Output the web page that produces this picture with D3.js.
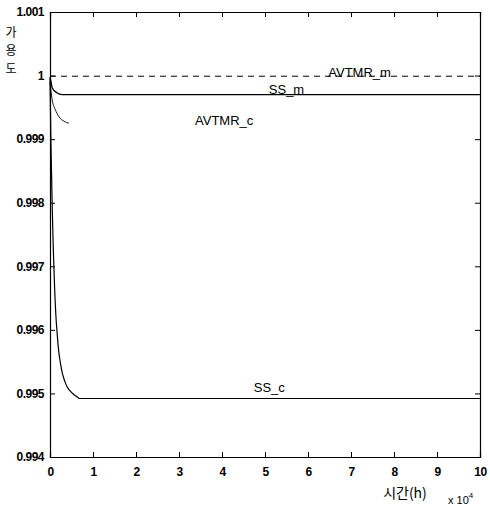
<!DOCTYPE html>
<html>
<head>
<meta charset="utf-8">
<script src="https://cdn.jsdelivr.net/npm/d3@7/dist/d3.min.js"></script>
<style>
  body { margin: 0; background: #fff; }
  svg text { font-family: "Liberation Sans", Arial, sans-serif; fill: #000; }
  svg .kr { font-family: "Noto Sans CJK KR", sans-serif; }
</style>
</head>
<body>
<div id="chart"></div>
<script>
// time in units of 10^4 h
const ssC_t = [0, 0.02, 0.05, 0.09, 0.16, 0.23, 0.33, 0.44, 0.56, 0.68, 10]
const ssC_v = [0.99995, 0.999, 0.998, 0.997, 0.996, 0.99553, 0.99522, 0.99506, 0.99498, 0.99492, 0.99492]

const ssM_t = [0, 0.03, 0.05, 0.16, 0.28, 10]
const ssM_v = [0.99998, 0.99988, 0.99981, 0.99973, 0.9997, 0.9997]

const avC_t = [0, 0.05, 0.12, 0.21, 0.33, 0.44]
const avC_v = [0.9999, 0.99962, 0.99947, 0.99935, 0.99928, 0.99925]

const avM_t = [0, 10]
const avM_v = [0.99999, 0.99999]

const xTicks = [0, 1, 2, 3, 4, 5, 6, 7, 8, 9, 10]
const yTicks = [0.994, 0.995, 0.996, 0.997, 0.998, 0.999, 1, 1.001]
const yLabel = ['가', '용', '도']

const W = 490, H = 506
const m = { left: 50, right: 10, top: 12, bottom: 49 }

const svg = d3.select('#chart').append('svg')
  .attr('width', W).attr('height', H)

const x = d3.scaleLinear().domain([0, 10]).range([m.left, W - m.right])
const y = d3.scaleLinear().domain([0.994, 1.001]).range([H - m.bottom, m.top])

const tk = 5
// box + inward ticks on all four sides
svg.append('g').attr('transform', `translate(0,${y(0.994)})`)
  .call(d3.axisBottom(x).tickValues(xTicks).tickSize(-tk).tickPadding(10).tickFormat(d3.format('d')))
svg.append('g').attr('transform', `translate(0,${y(1.001)})`)
  .call(d3.axisTop(x).tickValues(xTicks).tickSize(-tk).tickFormat(''))
svg.append('g').attr('transform', `translate(${x(0)},0)`)
  .call(d3.axisLeft(y).tickValues(yTicks).tickSize(-tk).tickPadding(6).tickFormat(d => d === 1 ? '1' : d3.format('.3f')(d)))
svg.append('g').attr('transform', `translate(${x(10)},0)`)
  .call(d3.axisRight(y).tickValues(yTicks).tickSize(-tk).tickFormat(''))

svg.selectAll('.domain').attr('stroke', '#000').attr('stroke-width', 1.2)
svg.selectAll('.tick line').attr('stroke', '#000')
svg.selectAll('.tick text').attr('font-size', 12).attr('font-weight', 'bold')
  .attr('font-family', '"Liberation Sans", Arial, sans-serif').attr('letter-spacing', '-0.5')

const line = d3.line().x(d => x(d[0])).y(d => y(d[1])).curve(d3.curveMonotoneX)
const pairs = (t, v) => t.map((d, i) => [d, v[i]])

svg.append('path').datum(pairs(avM_t, avM_v)).attr('d', line)
  .attr('fill', 'none').attr('stroke', '#000').attr('stroke-width', 1)
  .attr('stroke-dasharray', '6,5')
svg.append('path').datum(pairs(ssM_t, ssM_v)).attr('d', line)
  .attr('fill', 'none').attr('stroke', '#000').attr('stroke-width', 1.3)
svg.append('path').datum(pairs(avC_t, avC_v)).attr('d', line)
  .attr('fill', 'none').attr('stroke', '#000').attr('stroke-width', 0.9)
const ssC = pairs(ssC_t, ssC_v)
svg.append('path')
  .attr('d', d3.line().x(d => x(d[0])).y(d => y(d[1])).curve(d3.curveMonotoneY)(ssC.slice(0, 10)) + 'L' + x(10) + ',' + y(ssC_v[10]))
  .attr('fill', 'none').attr('stroke', '#000').attr('stroke-width', 1.2)

// series labels
const lab = (t, px, py) => svg.append('text').attr('x', px).attr('y', py)
  .attr('text-anchor', 'middle').attr('font-size', 13).text(t)
lab('AVTMR_m', x(7.2), y(0.99997))
lab('SS_m', x(5.5), y(0.99971))
lab('AVTMR_c', x(4.05), y(0.99922))
lab('SS_c', x(5.1), y(0.99503))

// y label: stacked hangul
svg.selectAll('.ylab').data(yLabel).enter().append('text')
  .attr('class', 'kr').attr('font-size', 12).attr('text-anchor', 'middle')
  .attr('x', 11).attr('y', (d, i) => 37 + i * 18).text(d => d)

svg.append('text').attr('class', 'kr').attr('x', 405).attr('y', 498).attr('text-anchor', 'middle')
  .attr('font-size', 14).text('시간(h)')
const e = svg.append('text').attr('x', 448).attr('y', 504).attr('font-size', 11)
e.append('tspan').text('x 10')
e.append('tspan').attr('dy', -6).attr('font-size', 8).text('4')
</script>
</body>
</html>
